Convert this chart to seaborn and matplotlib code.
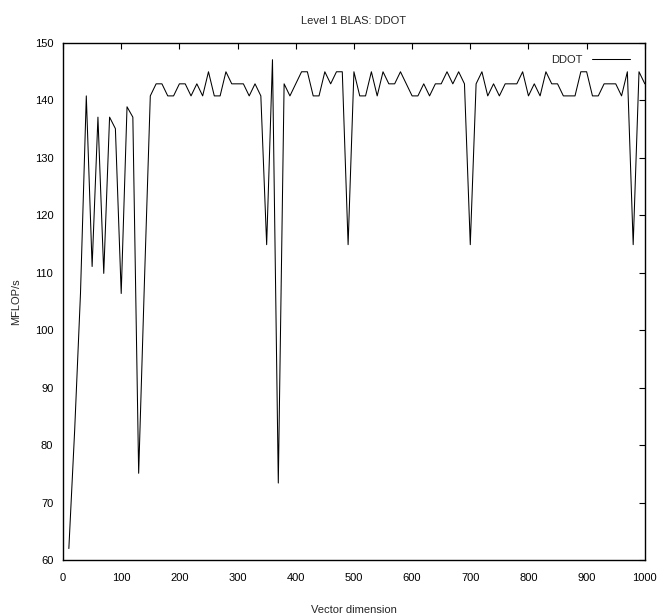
import pandas as pd
import matplotlib
matplotlib.use('Agg')
import matplotlib.pyplot as plt
import seaborn as sns


# vector dimensions tested
dims = [10, 20, 30, 40, 50, 60, 70, 80, 90, 100,
        110, 120, 130, 140, 150, 160, 170, 180, 190, 200,
        210, 220, 230, 240, 250, 260, 270, 280, 290, 300,
        310, 320, 330, 340, 350, 360, 370, 380, 390, 400,
        410, 420, 430, 440, 450, 460, 470, 480, 490, 500,
        510, 520, 530, 540, 550, 560, 570, 580, 590, 600,
        610, 620, 630, 640, 650, 660, 670, 680, 690, 700,
        710, 720, 730, 740, 750, 760, 770, 780, 790, 800,
        810, 820, 830, 840, 850, 860, 870, 880, 890, 900,
        910, 920, 930, 940, 950, 960, 970, 980, 990, 1000]

mflops = [62.0, 82.6, 106.4, 140.8, 111.1, 137.1, 109.9, 137.1, 135.1, 106.4,
          138.9, 137.1, 75.1, 108.7, 140.8, 142.9, 142.9, 140.8, 140.8, 142.9,
          142.9, 140.8, 142.9, 140.8, 145.0, 140.8, 140.8, 145.0, 142.9, 142.9,
          142.9, 140.8, 142.9, 140.8, 114.9, 147.1, 73.4, 142.9, 140.8, 142.9,
          145.0, 145.0, 140.8, 140.8, 145.0, 142.9, 145.0, 145.0, 114.9, 145.0,
          140.8, 140.8, 145.0, 140.8, 145.0, 142.9, 142.9, 145.0, 142.9, 140.8,
          140.8, 142.9, 140.8, 142.9, 142.9, 145.0, 142.9, 145.0, 142.9, 114.9,
          142.9, 145.0, 140.8, 142.9, 140.8, 142.9, 142.9, 142.9, 145.0, 140.8,
          142.9, 140.8, 145.0, 142.9, 142.9, 140.8, 140.8, 140.8, 145.0, 145.0,
          140.8, 140.8, 142.9, 142.9, 142.9, 140.8, 145.0, 114.9, 145.0, 142.9]

df = pd.DataFrame({'dim': dims, 'mflops': mflops})

sns.set_style('white')
plt.rcParams['font.family'] = ['Liberation Sans', 'DejaVu Sans']

fig = plt.figure(figsize=(6.6, 6.15), dpi=100)
ax = fig.add_axes([0.0955, 0.0894, 0.8815, 0.8406])

sns.lineplot(data=df, x='dim', y='mflops', color='black', linewidth=0.75,
             label='DDOT', ax=ax)

ax.set_xlim(0, 1000)
ax.set_ylim(60, 150)
ax.set_xticks(range(0, 1001, 100))
ax.set_yticks(range(60, 151, 10))
ax.tick_params(direction='in', length=4, width=0.8, labelsize=8,
               top=True, right=True, labeltop=False, labelright=False,
               colors='black')
ax.tick_params(axis='x', pad=9)
ax.tick_params(axis='y', pad=7)
for s in ax.spines.values():
    s.set_color('black')
    s.set_linewidth(1.0)

ax.set_title('Level 1 BLAS: DDOT', fontsize=8, pad=14)
ax.set_xlabel('Vector dimension', fontsize=8, labelpad=16)
ax.set_ylabel('MFLOP/s', fontsize=8, labelpad=10)

ax.legend(loc='upper right', bbox_to_anchor=(0.991, 0.996), frameon=False,
          markerfirst=False, fontsize=8, handlelength=3.4, handletextpad=0.8)

plt.savefig('out.png', dpi=100)
